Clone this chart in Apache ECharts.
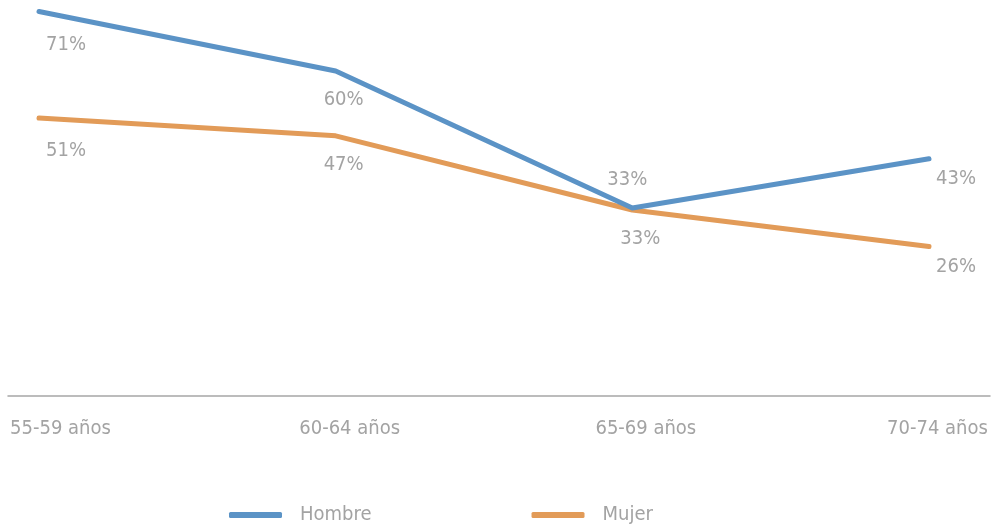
<!DOCTYPE html>
<html>
<head>
<meta charset="utf-8">
<script src="https://cdn.jsdelivr.net/npm/echarts@6/dist/echarts.min.js"></script>
<style>
  html,body{margin:0;padding:0;background:#fff;}
  #main{width:996px;height:525px;}
</style>
</head>
<body>
<div id="main"></div>
<script>
// datos (porcentaje)
var categorias = ['55-59 años', '60-64 años', '65-69 años', '70-74 años'];
var hombre = [71, 59.6, 33.4, 42.8];
var mujer = [50.6, 47.2, 33.0, 26.0];
var nombres = ['Hombre', 'Mujer'];

var fuente = '"Liberation Sans Narrow", "DejaVu Sans Condensed", sans-serif';
var gris = '#a3a3a3';
var tam = 20;

var chart = echarts.init(document.getElementById('main'), null, { renderer: 'canvas' });

// desplazamiento de las etiquetas de categoria (como en el original)
var padCat = [43, 28, 27, 17];

function etiquetas() {
  return {
    show: true,
    position: 'bottom',
    distance: 17,
    color: gris,
    fontFamily: fuente,
    fontSize: tam,
    formatter: function (p) { return Math.round(p.value) + '%'; }
  };
}

function rico(i) {
  return { padding: [0, 0, 0, padCat[i]], color: gris, fontFamily: fuente, fontSize: tam };
}

var option = {
  animation: false,
  backgroundColor: '#fff',
  grid: [
    { left: 39, right: 67, top: 0, bottom: 129 },
    { left: 8, right: 6, top: 0, bottom: 129 }
  ],
  legend: {
    data: nombres,
    left: 229,
    top: 505,
    padding: 0,
    icon: 'roundRect',
    itemWidth: 53,
    itemHeight: 6,
    itemGap: 160,
    textStyle: { color: gris, fontFamily: fuente, fontSize: tam, padding: [0, 0, 0, 13] }
  },
  xAxis: [
    {
      type: 'category',
      gridIndex: 0,
      data: categorias,
      boundaryGap: false,
      axisLine: { show: false },
      axisTick: { show: false },
      axisLabel: {
        color: gris,
        fontFamily: fuente,
        fontSize: tam,
        margin: 23,
        formatter: function (v, i) { return '{c' + i + '|' + v + '}'; },
        rich: { c0: rico(0), c1: rico(1), c2: rico(2), c3: rico(3) }
      }
    },
    {
      type: 'value',
      gridIndex: 1,
      min: 0,
      max: 1,
      axisLine: { show: true, onZero: false, lineStyle: { color: '#a6a6a6', width: 1.5 } },
      axisTick: { show: false },
      axisLabel: { show: false },
      splitLine: { show: false }
    }
  ],
  yAxis: [
    { type: 'value', gridIndex: 0, min: -2.6, max: 73.2, show: false, splitLine: { show: false } },
    { type: 'value', gridIndex: 1, min: 0, max: 1, show: false, splitLine: { show: false } }
  ],
  series: [
    {
      name: nombres[0],
      type: 'line',
      data: hombre.map(function (v, i) {
        return i === 2 ? { value: v, label: { position: 'top' } } : v;
      }),
      color: '#5b93c6',
      lineStyle: { width: 5, cap: 'round', join: 'round' },
      symbol: 'circle',
      symbolSize: 0.1,
      label: etiquetas(),
      z: 3
    },
    {
      name: nombres[1],
      type: 'line',
      data: mujer,
      color: '#e29b58',
      lineStyle: { width: 5, cap: 'round', join: 'round' },
      symbol: 'circle',
      symbolSize: 0.1,
      label: etiquetas(),
      z: 2
    }
  ],
  labelLayout: function (p) {
    var n = categorias.length;
    var dx = 8, dy = 2;
    if (p.dataIndex === 0) { dx = 27; dy = 6; }
    if (p.dataIndex === n - 1) { dx = 27; dy = -7; }
    if (p.seriesIndex === 0 && p.dataIndex === 2) { dx = -5; dy = -1; }
    return { dx: dx, dy: dy };
  }
};

chart.setOption(option);
</script>
</body>
</html>
